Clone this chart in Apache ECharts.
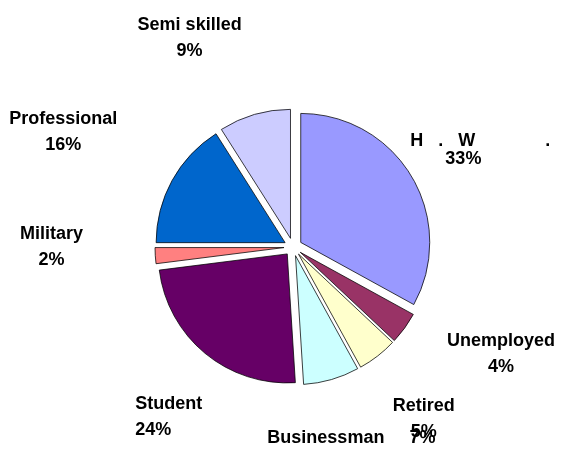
<!DOCTYPE html>
<html><head><meta charset="utf-8">
<script src="https://cdn.jsdelivr.net/npm/echarts@6/dist/echarts.min.js"></script>
<style>html,body{margin:0;padding:0;background:#fff}#c{width:563px;height:461px}</style>
</head><body><div id="c"></div>
<script>
// ---- data ----
const categories = ['H   .   W              .', 'Unemployed', 'Retired', 'Businessman', 'Student', 'Military', 'Professional', 'Semi skilled'];
const values = [33, 4, 5, 7, 24, 2, 16, 9];

// ---- styles ----
const colors = ['#9999FF', '#993366', '#FFFFCC', '#CCFFFF', '#660066', '#FF8080', '#0066CC', '#CCCCFF'];
const labelStyleKey = ['h', 'c', 'c', 'one', 'l', 'c', 'c', 'c'];
const labelNudge = [[-2, 15], [30, -22], [-4, -2], [-3, -20], [16, 1], [-22, -14], [-37, -9], [-42, 2]];

const font = { fontFamily: "'Liberation Sans', Arial, sans-serif", fontWeight: 'bold', fontSize: 18, color: '#000' };

const chart = echarts.init(document.getElementById('c'), null, { renderer: 'canvas' });

function fmt(p) {
  const k = labelStyleKey[p.dataIndex];
  const pct = Math.round(p.percent) + '%';
  if (k === 'one') return '{c1|' + p.name + '     ' + pct + '}';
  if (k === 'h') return '{h1|' + p.name + '}\n{h2|' + pct + '}';
  if (k === 'l') return '{l1|' + p.name + '}\n{l2|' + pct + '}';
  return '{c1|' + p.name + '}\n{c2|' + pct + '}';
}

const rich = {
  c1: Object.assign({}, font, { lineHeight: 26 }),
  c2: Object.assign({}, font, { lineHeight: 26 }),
  l1: Object.assign({}, font, { lineHeight: 26, align: 'left' }),
  l2: Object.assign({}, font, { lineHeight: 26, align: 'left' }),
  h1: Object.assign({}, font, { lineHeight: 18, align: 'left' }),
  h2: Object.assign({}, font, { lineHeight: 18, align: 'left', padding: [0, 0, 0, 35] })
};

const option = {
  backgroundColor: '#fff',
  animation: false,
  series: [
    {
      type: 'pie',
      center: [293, 247],
      radius: 129,
      startAngle: 90,
      clockwise: true,
      selectedMode: 'multiple',
      selectedOffset: 9,
      silent: true,
      label: { show: false },
      labelLine: { show: false },
      itemStyle: { borderColor: '#000', borderWidth: 0.75 },
      select: { itemStyle: { borderColor: '#000', borderWidth: 0.75 } },
      emphasis: { disabled: true },
      data: values.map((v, i) => ({ name: categories[i], value: v, selected: true, itemStyle: { color: colors[i] } }))
    },
    {
      type: 'pie',
      center: [293, 247],
      radius: [207, 227],
      startAngle: 90,
      clockwise: true,
      silent: true,
      selectedMode: false,
      itemStyle: { color: 'rgba(0,0,0,0)', borderWidth: 0 },
      label: Object.assign({ show: true, position: 'inside', formatter: fmt, rich: rich }, font),
      labelLine: { show: false },
      labelLayout: p => ({ dx: labelNudge[p.dataIndex][0], dy: labelNudge[p.dataIndex][1] }),
      emphasis: { disabled: true },
      data: values.map((v, i) => ({ name: categories[i], value: v }))
    }
  ]
};
chart.setOption(option);
</script>
</body></html>
